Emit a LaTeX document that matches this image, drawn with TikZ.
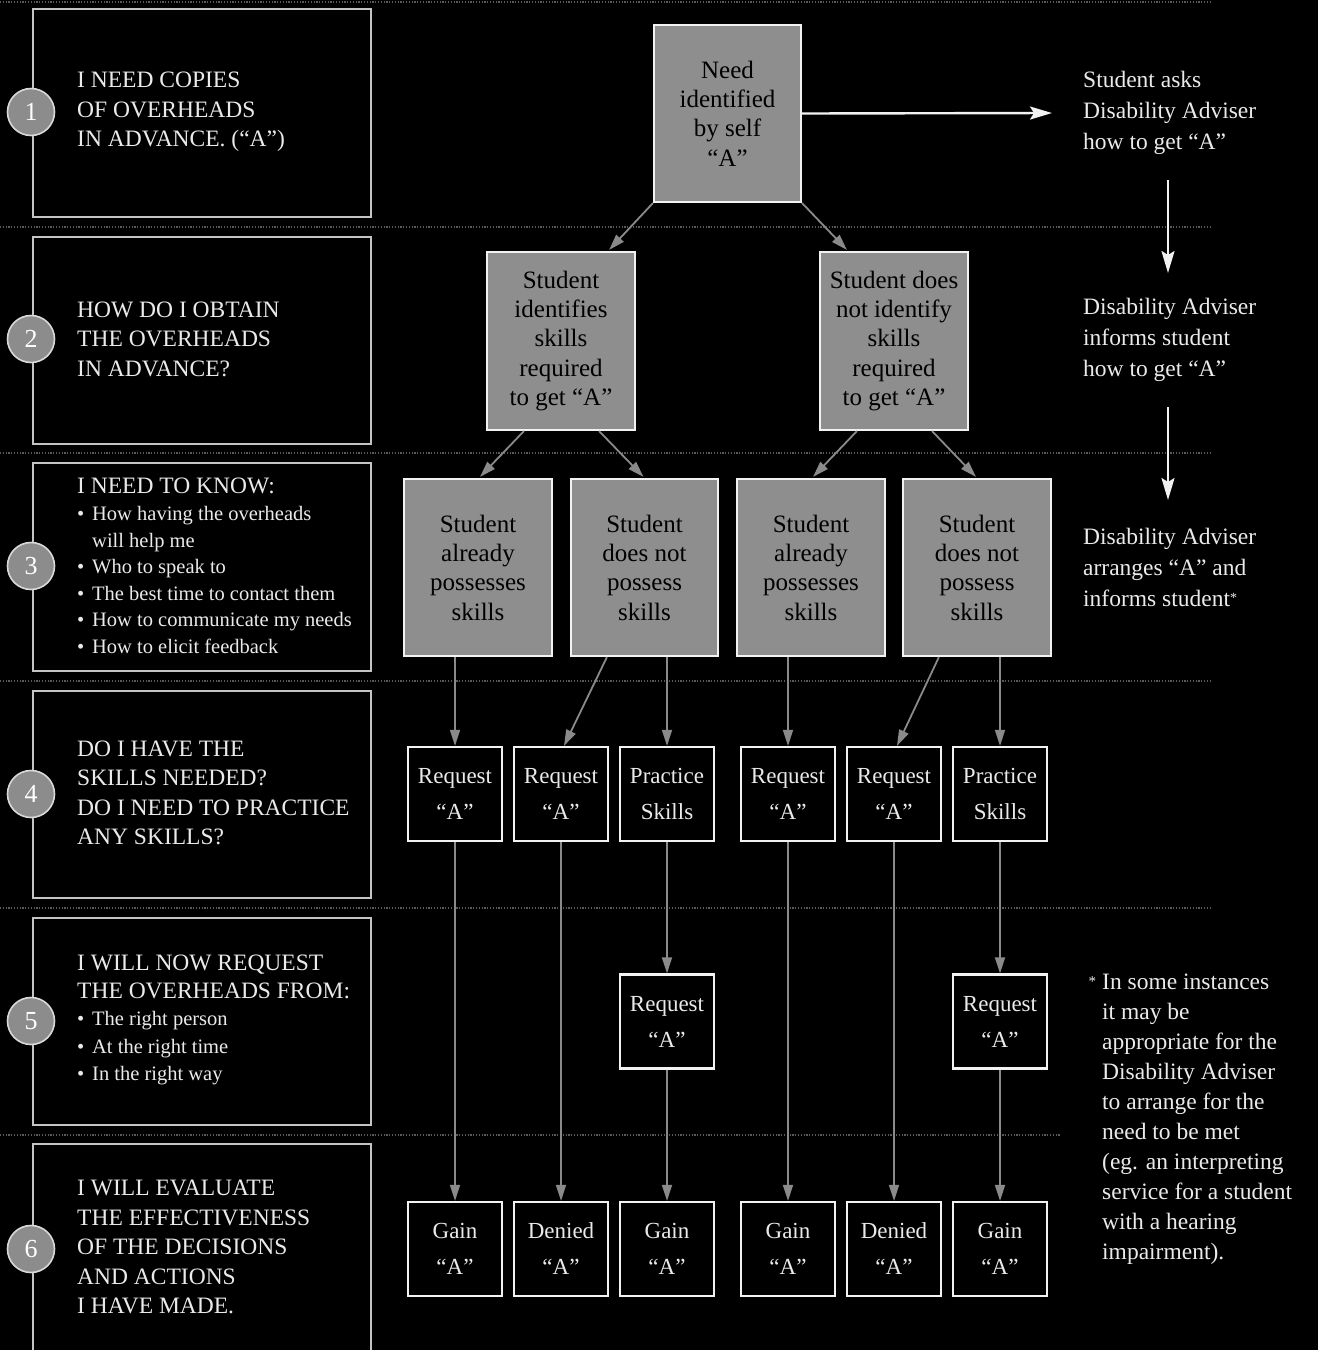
\documentclass[tikz,border=0pt]{standalone}
\usepackage{fontspec}
\setmainfont{Liberation Serif}
\usetikzlibrary{arrows.meta,calc}
\definecolor{boxgrey}{HTML}{8E8E8E}
\definecolor{arrgrey}{HTML}{8A8A8A}
\definecolor{circc}{HTML}{8C8C8C}
\definecolor{panelc}{HTML}{C4C4C4}
\definecolor{sepc}{HTML}{5A5A5A}
\definecolor{txtw}{HTML}{EAEAEA}
\definecolor{txtd}{HTML}{101010}
\definecolor{edgew}{HTML}{F2F2F2}
\newcommand{\bul}{\makebox[15pt][l]{\textbullet}}
\tikzset{
  panel/.style={draw=panelc, line width=1.8pt, minimum width=338pt, inner sep=0pt},
  numcirc/.style={circle, fill=circc, draw=white!85!black, line width=1.6pt, minimum size=47pt, inner sep=0pt, text=white, font=\fontsize{26}{26}\selectfont},
  greybox/.style={draw=edgew, line width=2.2pt, fill=boxgrey, text=black, align=center, inner sep=0pt, font=\fontsize{25}{29.3}\selectfont\color{txtd}},
  blkbox/.style={draw=edgew, line width=2.2pt, fill=black, text=txtw, align=center, inner sep=0pt, minimum width=94pt, minimum height=94pt, font=\fontsize{23}{36}\selectfont},
  garrow/.style={draw=arrgrey, line width=1.8pt, -{Triangle[length=16pt,width=10pt]}},
  warrow/.style={draw=edgew, line width=2.4pt, -{Stealth[length=22pt,width=13pt,inset=4pt]}},
  caps/.style={text=txtw, align=left, anchor=west, inner sep=0pt, font=\fontsize{23.5}{29.5}\selectfont},
  rtext/.style={text=txtw, align=left, anchor=west, inner sep=0pt, font=\fontsize{23.5}{31}\selectfont},
  sepline/.style={draw=sepc, line width=1.2pt, dash pattern=on 1.2pt off 1.6pt}
}
\begin{document}
\begin{tikzpicture}[x=1pt,y=-1pt]
\clip (0,0) rectangle (1318,1350);
\fill[black] (0,0) rectangle (1318,1350);
% separators
\foreach \yy in {2,227,453,681,908}{
  \draw[sepline] (0,\yy) -- (1210,\yy);
}
\draw[sepline] (0,1135) -- (1060,1135);
% left panels
\node[panel, minimum height=208pt] (p1) at (202,113) {};
\node[panel, minimum height=207pt] (p2) at (202,340.5) {};
\node[panel, minimum height=208pt] (p3) at (202,567) {};
\node[panel, minimum height=207pt] (p4) at (202,794.5) {};
\node[panel, minimum height=207pt] (p5) at (202,1021.5) {};
\node[panel, minimum height=216pt] (p6) at (202,1252) {};
\node[numcirc] (c1) at (31,112) {1};
\node[numcirc] (c2) at (31,339) {2};
\node[numcirc] (c3) at (31,566) {3};
\node[numcirc] (c4) at (31,794) {4};
\node[numcirc] (c5) at (31,1021) {5};
\node[numcirc] (c6) at (31,1249) {6};
% left texts
\node[caps] (t1) at (77,112) {I NEED COPIES\\OF OVERHEADS\\IN ADVANCE. (“A”)};
\node[caps] (t2) at (77,339) {HOW DO I OBTAIN\\THE OVERHEADS\\IN ADVANCE?};
\node[caps, font=\fontsize{20.5}{26.6}\selectfont] (t3) at (77,566) {{\fontsize{23.5}{26.6}\selectfont I NEED TO KNOW:}\\
\bul How having the overheads\\
\hspace*{15pt}will help me\\
\bul Who to speak to\\
\bul The best time to contact them\\
\bul How to communicate my needs\\
\bul How to elicit feedback};
\node[caps] (t4) at (77,793) {DO I HAVE THE\\SKILLS NEEDED?\\DO I NEED TO PRACTICE\\ANY SKILLS?};
\node[caps, font=\fontsize{20.5}{27.5}\selectfont] (t5) at (77,1020) {{\fontsize{23.5}{27.5}\selectfont I WILL NOW REQUEST}\\
{\fontsize{23.5}{27.5}\selectfont THE OVERHEADS FROM:}\\
\bul The right person\\
\bul At the right time\\
\bul In the right way};
\node[caps] (t6) at (77,1247) {I WILL EVALUATE\\THE EFFECTIVENESS\\OF THE DECISIONS\\AND ACTIONS\\I HAVE MADE.};
% right texts
\node[rtext] (r1) at (1083,113) {Student asks\\Disability Adviser\\how to get “A”};
\node[rtext] (r2) at (1083,340) {Disability Adviser\\informs student\\how to get “A”};
\node[rtext] (r3) at (1083,567) {Disability Adviser\\arranges “A” and\\informs student\raisebox{4pt}{\fontsize{14}{14}\selectfont*}};
\node[rtext, font=\fontsize{23.5}{30}\selectfont] (fn) at (1102,1119) {\llap{\raisebox{3pt}{\fontsize{15}{15}\selectfont*}\hspace{6pt}}In some instances\\it may be\\appropriate for the\\Disability Adviser\\to arrange for the\\need to be met\\(eg. an interpreting\\service for a student\\with a hearing\\impairment).};
% grey boxes
\node[greybox, minimum width=147pt, minimum height=177pt] (top) at (727.5,113.5) {Need\\identified\\by self\\“A”};
\node[greybox, minimum width=148pt, minimum height=178pt] (l2a) at (561,341) {Student\\identifies\\skills\\required\\to get “A”};
\node[greybox, minimum width=148pt, minimum height=178pt] (l2b) at (894,341) {Student does\\not identify\\skills\\required\\to get “A”};
\node[greybox, minimum width=148pt, minimum height=177pt] (l3a) at (478,567.5) {Student\\already\\possesses\\skills};
\node[greybox, minimum width=147pt, minimum height=177pt] (l3b) at (644.5,567.5) {Student\\does not\\possess\\skills};
\node[greybox, minimum width=148pt, minimum height=177pt] (l3c) at (811,567.5) {Student\\already\\possesses\\skills};
\node[greybox, minimum width=148pt, minimum height=177pt] (l3d) at (977,567.5) {Student\\does not\\possess\\skills};
% black boxes row 4
\node[blkbox] (l4a) at (455,794) {Request\\“A”};
\node[blkbox] (l4b) at (561,794) {Request\\“A”};
\node[blkbox] (l4c) at (667,794) {Practice\\Skills};
\node[blkbox] (l4d) at (788,794) {Request\\“A”};
\node[blkbox] (l4e) at (894,794) {Request\\“A”};
\node[blkbox] (l4f) at (1000,794) {Practice\\Skills};
% row 5
\node[blkbox] (l5a) at (667,1021.5) {Request\\“A”};
\node[blkbox] (l5b) at (1000,1021.5) {Request\\“A”};
% row 6
\node[blkbox] (l6a) at (455,1249) {Gain\\“A”};
\node[blkbox] (l6b) at (561,1249) {Denied\\“A”};
\node[blkbox] (l6c) at (667,1249) {Gain\\“A”};
\node[blkbox] (l6d) at (788,1249) {Gain\\“A”};
\node[blkbox] (l6e) at (894,1249) {Denied\\“A”};
\node[blkbox] (l6f) at (1000,1249) {Gain\\“A”};
% white arrows
\draw[warrow] (top.east) -- ($(r1.west)+(-31,0)$);
\coordinate (ra1s) at (1168,180);
\coordinate (ra1e) at (1168,273);
\coordinate (ra2s) at (1168,407);
\coordinate (ra2e) at (1168,500);
\draw[warrow] (ra1s) -- (ra1e);
\draw[warrow] (ra2s) -- (ra2e);
% grey arrows level 1 -> 2
\draw[garrow] (top.south west) -- ($(l2a.north east)+(-27,-1)$);
\draw[garrow] (top.south east) -- ($(l2b.north west)+(28,-1)$);
% level 2 -> 3
\draw[garrow] ($(l2a.south west)+(38,0)$) -- ($(l3a.north)+(2,-1)$);
\draw[garrow] ($(l2a.south east)+(-37,0)$) -- ($(l3b.north)+(-1,-1)$);
\draw[garrow] ($(l2b.south west)+(38,0)$) -- ($(l3c.north)+(2,-1)$);
\draw[garrow] ($(l2b.south east)+(-37,0)$) -- ($(l3d.north)+(-1,-1)$);
% level 3 -> 4
\draw[garrow] (l4a.north |- l3a.south) -- (l4a.north);
\draw[garrow] ($(l3b.south west)+(37,0)$) -- ($(l4b.north)+(3,0)$);
\draw[garrow] (l4c.north |- l3b.south) -- (l4c.north);
\draw[garrow] (l4d.north |- l3c.south) -- (l4d.north);
\draw[garrow] ($(l3d.south west)+(37,0)$) -- ($(l4e.north)+(3,0)$);
\draw[garrow] (l4f.north |- l3d.south) -- (l4f.north);
% level 4 -> 5/6
\draw[garrow] (l4a.south) -- (l6a.north);
\draw[garrow] (l4b.south) -- (l6b.north);
\draw[garrow] (l4c.south) -- (l5a.north);
\draw[garrow] (l5a.south) -- (l6c.north);
\draw[garrow] (l4d.south) -- (l6d.north);
\draw[garrow] (l4e.south) -- (l6e.north);
\draw[garrow] (l4f.south) -- (l5b.north);
\draw[garrow] (l5b.south) -- (l6f.north);
\end{tikzpicture}
\end{document}
